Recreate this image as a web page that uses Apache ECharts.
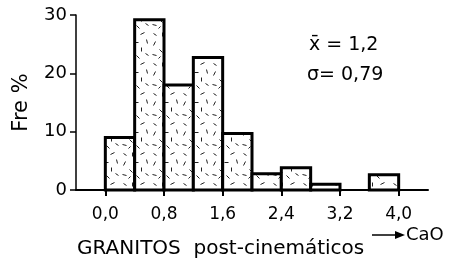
<!DOCTYPE html>
<html>
<head>
<meta charset="utf-8">
<script src="https://cdn.jsdelivr.net/npm/echarts@6/dist/echarts.min.js"></script>
<style>
  html, body { margin: 0; padding: 0; background: #fff; }
  #chart { width: 453px; height: 265px; }
</style>
</head>
<body>
<div id="chart"></div>
<script>
// histogram bins (CaO, width 0.4) and frequencies (%)
var binStarts = [0.0, 0.4, 0.8, 1.2, 1.6, 2.0, 2.4, 2.8, 3.2, 3.6];
var freq = [9, 29.2, 18, 22.7, 9.7, 2.8, 3.8, 1, 0, 2.6];
var binWidth = 0.4;
var xTicks = [0.0, 0.8, 1.6, 2.4, 3.2, 4.0];
var yTicks = [0, 10, 20, 30];

// little dash texture like the hand-drawn fill
function makePattern() {
  var c = document.createElement('canvas');
  c.width = 30; c.height = 30;
  var g = c.getContext('2d');
  g.fillStyle = '#fff';
  g.fillRect(0, 0, 30, 30);
  g.strokeStyle = '#222';
  g.lineWidth = 1;
  var segs = [
    [3, 3, 6, 5], [12, 2, 12, 6], [20, 4, 24, 2], [26, 9, 27, 13],
    [5, 11, 3, 15], [14, 12, 18, 12], [9, 19, 12, 22], [21, 17, 21, 21],
    [2, 24, 6, 25], [16, 25, 19, 28], [25, 23, 28, 25], [8, 28, 10, 26]
  ];
  segs.forEach(function (s) {
    g.beginPath(); g.moveTo(s[0] + 0.5, s[1] + 0.5); g.lineTo(s[2] + 0.5, s[3] + 0.5); g.stroke();
  });
  return c;
}
var pattern = { image: makePattern(), repeat: 'repeat' };

function fmt(v) {
  return v.toFixed(1).replace('.', ',');
}

var chart = echarts.init(document.getElementById('chart'));
var font = 'DejaVu Sans';

chart.setOption({
  animation: false,
  grid: { left: 76, right: 25, top: 15, bottom: 75 },
  xAxis: {
    type: 'value',
    min: -0.4,
    max: 4.4,
    splitLine: { show: false },
    axisLine: { onZero: false, lineStyle: { color: '#000', width: 2 } },
    axisTick: { customValues: xTicks, length: 6, lineStyle: { color: '#000', width: 2 } },
    axisLabel: {
      customValues: xTicks,
      formatter: fmt,
      color: '#000',
      fontFamily: font,
      fontSize: 17,
      margin: 16
    }
  },
  yAxis: {
    type: 'value',
    min: 0,
    max: 30,
    interval: 10,
    splitLine: { show: false },
    axisLine: { show: true, onZero: false, lineStyle: { color: '#000', width: 1.5 } },
    axisTick: { show: true, length: 6, lineStyle: { color: '#000', width: 1.5 } },
    axisLabel: { color: '#000', fontFamily: font, fontSize: 18, margin: 9 },
    name: 'Fre %',
    nameLocation: 'middle',
    nameRotate: 90,
    nameGap: 44,
    nameTextStyle: { color: '#000', fontFamily: font, fontSize: 21 }
  },
  series: [{
    type: 'custom',
    data: binStarts.map(function (x, i) { return [x, freq[i]]; }),
    renderItem: function (params, api) {
      var x0 = api.value(0), v = api.value(1);
      if (!v) return null;
      var p0 = api.coord([x0, 0]);
      var p1 = api.coord([x0 + binWidth, v]);
      return {
        type: 'rect',
        shape: { x: p0[0], y: p1[1], width: p1[0] - p0[0], height: p0[1] - p1[1] },
        style: { fill: pattern, stroke: '#000', lineWidth: 3 }
      };
    }
  }],
  graphic: [
    { type: 'text', left: 309, top: 36, style: { text: 'x̄ = 1,2', font: '19px ' + font, fill: '#000' } },
    { type: 'text', left: 307, top: 66, style: { text: 'σ= 0,79', font: '19px ' + font, fill: '#000' } },
    { type: 'text', left: 77, top: 239, style: { text: 'GRANITOS  post-cinemáticos', font: '20px ' + font, fill: '#000' } },
    { type: 'line', shape: { x1: 372, y1: 235, x2: 398, y2: 235 }, style: { stroke: '#000', lineWidth: 1.5 } },
    { type: 'polygon', shape: { points: [[395, 231], [405, 235], [395, 239]] }, style: { fill: '#000' } },
    { type: 'text', left: 406, top: 226, style: { text: 'CaO', font: '18px ' + font, fill: '#000' } }
  ]
});
</script>
</body>
</html>
